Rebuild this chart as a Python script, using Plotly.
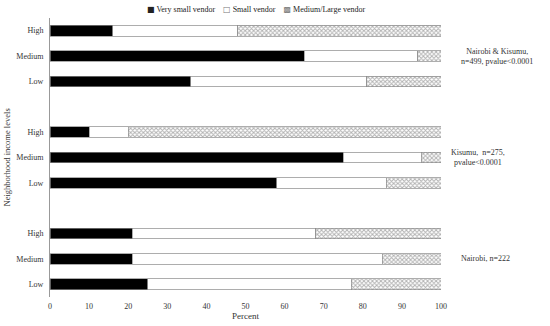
import plotly.graph_objects as go

levels = ["Low", "Medium", "High"]
groups = ["Nairobi, n=222", "Kisumu,  n=275,<br>pvalue<0.0001", "Nairobi & Kisumu,<br>n=499, pvalue<0.0001"]
very_small = [[25, 21, 21], [58, 75, 10], [36, 65, 16]]
small = [[52, 64, 47], [28, 20, 10], [45, 29, 32]]
medium_large = [[23, 15, 32], [14, 5, 80], [19, 6, 52]]
x_ticks = [0, 10, 20, 30, 40, 50, 60, 70, 80, 90, 100]

# slot positions: each group uses 3 slots followed by one empty slot
ypos, ylab = [], []
for g in range(len(groups)):
    for i, lv in enumerate(levels):
        ypos.append(g * 4 + i)
        ylab.append(lv)

def flat(a):
    return [v for row in a for v in row]

font = "Liberation Serif, Times New Roman, serif"
edge = dict(color="#8a8a8a", width=0.7)
fig = go.Figure()
fig.add_trace(go.Bar(y=ypos, x=flat(very_small), orientation="h", name="Very small vendor",
                     marker=dict(color="black", line=edge), width=0.42, showlegend=False))
fig.add_trace(go.Bar(y=ypos, x=flat(small), orientation="h", name="Small vendor",
                     marker=dict(color="white", line=edge), width=0.42, showlegend=False))
fig.add_trace(go.Bar(y=ypos, x=flat(medium_large), orientation="h", name="Medium/Large vendor",
                     marker=dict(color="white", line=edge,
                                 pattern=dict(shape="x", size=3, solidity=0.55, fgcolor="#666666", bgcolor="white")),
                     width=0.42, showlegend=False))

annotations = []
for g, label in enumerate(groups):
    cx = [1.113, 1.095, 1.143][g]
    annotations.append(dict(x=cx, y=(g * 4 + 1 + 0.5) / 11, xref="paper", yref="paper", text=label,
                            showarrow=False, xanchor="center", yanchor="middle",
                            font=dict(family=font, size=8, color="#333"), align="center"))

# legend as text line
annotations.append(dict(x=0.527, y=1, xref="paper", yref="paper", yshift=9, showarrow=False,
                        xanchor="center", yanchor="middle",
                        text="<span style='font-family:DejaVu Sans'>■</span> Very small vendor"
                             "    <span style='font-family:DejaVu Sans;color:#777'>□</span> Small vendor"
                             "    <span style='font-family:DejaVu Sans;color:#777'>▩</span> Medium/Large vendor",
                        font=dict(family=font, size=8, color="#222")))
annotations.append(dict(x=0, y=0.5, xref="paper", yref="paper", xshift=-44, showarrow=False,
                        xanchor="center", yanchor="middle",
                        textangle=-90, text="Neighborhood income levels",
                        font=dict(family=font, size=8.5, color="#333")))

fig.update_layout(
    barmode="stack",
    width=550, height=326,
    margin=dict(l=50, r=109, t=18, b=29, autoexpand=False),
    paper_bgcolor="white", plot_bgcolor="white",
    font=dict(family=font, size=8, color="#333"),
    annotations=annotations,
    xaxis=dict(range=[0, 100], tickvals=x_ticks, showgrid=False, zeroline=False, showline=False,
               ticks="", tickfont=dict(size=8), ticklabelstandoff=3,
               title=dict(text="Percent", font=dict(size=9), standoff=2), automargin=False),
    yaxis=dict(range=[-0.5, 10.5], tickvals=ypos, ticktext=ylab, showgrid=False, zeroline=False,
               showline=True, linecolor="#999", linewidth=1, ticks="", ticklabelstandoff=4,
               tickfont=dict(size=8), automargin=False),
)
fig.write_html("out.html", config={"displayModeBar": False},
               post_script="document.body.style.margin='0';")
